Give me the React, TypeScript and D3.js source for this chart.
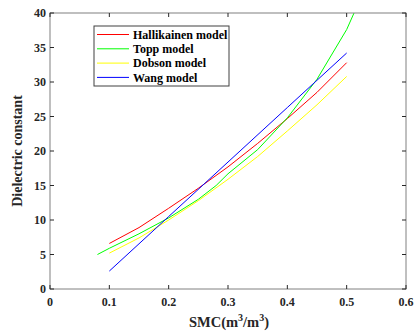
import React from 'react';
import * as d3 from 'd3';

// soil moisture content (m3/m3) and dielectric constant per model
const hallikainenX = [0.1, 0.15, 0.2, 0.25, 0.3, 0.35, 0.4, 0.45, 0.5];
const hallikainenY = [6.6, 8.9, 11.7, 14.6, 17.7, 21.1, 24.7, 28.5, 32.8];

const toppX = [0.08, 0.1, 0.15, 0.2, 0.25, 0.28, 0.3, 0.35, 0.4, 0.45, 0.5, 0.515];
const toppY = [5.0, 5.9, 8.0, 10.3, 13.0, 15.0, 16.7, 20.2, 24.8, 30.4, 37.6, 40.5];

const dobsonX = [0.1, 0.15, 0.2, 0.25, 0.3, 0.35, 0.4, 0.45, 0.5];
const dobsonY = [5.2, 7.4, 10.0, 12.8, 15.9, 19.2, 22.9, 26.7, 30.8];

const wangX = [0.1, 0.2, 0.3, 0.4, 0.5];
const wangY = [2.6, 10.5, 18.4, 26.3, 34.2];

const xTicks = [0, 0.1, 0.2, 0.3, 0.4, 0.5, 0.6];
const yTicks = [0, 5, 10, 15, 20, 25, 30, 35, 40];

const series = [
  { name: 'Hallikainen model', color: '#ff0000', x: hallikainenX, y: hallikainenY },
  { name: 'Topp model', color: '#00ff00', x: toppX, y: toppY },
  { name: 'Dobson model', color: '#ffff00', x: dobsonX, y: dobsonY },
  { name: 'Wang model', color: '#0000ff', x: wangX, y: wangY },
];

const width = 415;
const height = 332;
const margin = { top: 13, right: 9, bottom: 43, left: 50 };
const font = '"Liberation Serif", "Times New Roman", serif';

export default function App() {
  const innerWidth = width - margin.left - margin.right;
  const innerHeight = height - margin.top - margin.bottom;

  const xScale = d3.scaleLinear().domain([0, 0.6]).range([0, innerWidth]);
  const yScale = d3.scaleLinear().domain([0, 40]).range([innerHeight, 0]);

  const line = d3
    .line<[number, number]>()
    .x(d => xScale(d[0]))
    .y(d => yScale(d[1]));

  const axisColor = '#262626';
  const tickLen = 4;

  return (
    <svg
      width={width}
      height={height}
      style={{ position: 'absolute', left: 0, top: 0, background: '#fff' }}
    >
      <defs>
        <clipPath id="plot-clip">
          <rect x={0} y={0} width={innerWidth} height={innerHeight} />
        </clipPath>
      </defs>
      <g transform={`translate(${margin.left}, ${margin.top})`}>
        {/* Lines */}
        <g clipPath="url(#plot-clip)">
          {series.map(s => (
            <path
              key={s.name}
              d={line(s.x.map((v, i) => [v, s.y[i]] as [number, number])) || ''}
              fill="none"
              stroke={s.color}
              strokeWidth={1}
            />
          ))}
        </g>

        {/* Box */}
        <rect
          x={0}
          y={0}
          width={innerWidth}
          height={innerHeight}
          fill="none"
          stroke="#808080"
          strokeWidth={1}
        />

        {/* X ticks */}
        {xTicks.map(t => (
          <g key={`x${t}`}>
            <line
              x1={xScale(t)}
              x2={xScale(t)}
              y1={innerHeight}
              y2={innerHeight - tickLen}
              stroke={axisColor}
            />
            <line x1={xScale(t)} x2={xScale(t)} y1={0} y2={tickLen} stroke={axisColor} />
            <text
              x={xScale(t)}
              y={innerHeight + 17}
              textAnchor="middle"
              fontFamily={font}
              fontWeight="bold"
              fontSize={12}
              fill={axisColor}
            >
              {t === 0 ? '0' : t.toFixed(1)}
            </text>
          </g>
        ))}

        {/* Y ticks */}
        {yTicks.map(t => (
          <g key={`y${t}`}>
            <line x1={0} x2={tickLen} y1={yScale(t)} y2={yScale(t)} stroke={axisColor} />
            <line
              x1={innerWidth}
              x2={innerWidth - tickLen}
              y1={yScale(t)}
              y2={yScale(t)}
              stroke={axisColor}
            />
            <text
              x={-4}
              y={yScale(t)}
              dy="0.35em"
              textAnchor="end"
              fontFamily={font}
              fontWeight="bold"
              fontSize={12}
              fill={axisColor}
            >
              {t}
            </text>
          </g>
        ))}

        {/* Axis labels */}
        <text
          x={innerWidth / 2 + 1}
          y={innerHeight + 38}
          textAnchor="middle"
          fontFamily={font}
          fontWeight="bold"
          fontSize={14.5}
          fill={axisColor}
        >
          SMC(m
          <tspan dy={-6} fontSize={10}>3</tspan>
          <tspan dy={6}>/m</tspan>
          <tspan dy={-6} fontSize={10}>3</tspan>
          <tspan dy={6}>)</tspan>
        </text>
        <text
          transform="rotate(-90)"
          x={-innerHeight / 2}
          y={-28}
          textAnchor="middle"
          fontFamily={font}
          fontWeight="bold"
          fontSize={14}
          fill={axisColor}
        >
          Dielectric constant
        </text>

        {/* Legend */}
        <g transform={`translate(${94 - margin.left}, ${26 - margin.top})`}>
          <rect x={0} y={0} width={135} height={60} fill="#fff" stroke="#404040" strokeWidth={1} />
          {series.map((s, i) => (
            <g key={s.name} transform={`translate(0, ${8.5 + i * 14.3})`}>
              <line x1={3} x2={35} y1={0} y2={0} stroke={s.color} strokeWidth={1} />
              <text
                x={39}
                y={0}
                dy="0.35em"
                fontFamily={font}
                fontWeight="bold"
                fontSize={12}
                fill="#000"
              >
                {s.name}
              </text>
            </g>
          ))}
        </g>
      </g>
    </svg>
  );
}
